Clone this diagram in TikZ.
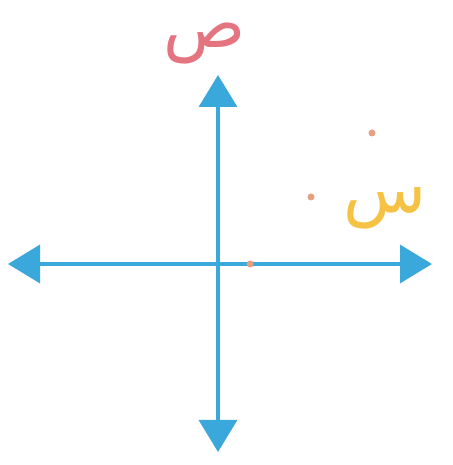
\documentclass[tikz,border=0pt]{standalone}
\usepackage{fontspec}
\newfontfamily\arabicfont[Script=Arabic]{DejaVu Sans}
\TeXXeTstate=1
\usetikzlibrary{arrows.meta}
\definecolor{axisblue}{HTML}{3AA8DA}
\definecolor{sadred}{HTML}{E47580}
\definecolor{seenyellow}{HTML}{F5C243}
\definecolor{dotorange}{HTML}{E9A07E}
\tikzset{
  axis/.style={draw=axisblue, line width=3.5pt, -{Triangle[length=32pt,width=38pt]}, shorten >=0pt},
  dotpt/.style={circle, fill=dotorange, inner sep=0pt, minimum size=7pt},
  letter/.style={inner sep=0pt, text height=0.45em, text depth=0.25em, font=\arabicfont\fontsize{68}{68}\selectfont}
}
\begin{document}
\begin{tikzpicture}[x=1pt,y=1pt]
\useasboundingbox (0,0) rectangle (452,465);
\coordinate (O) at (218,201);
\coordinate (top) at (218,390);
\coordinate (bottom) at (218,13);
\coordinate (left) at (8,201);
\coordinate (right) at (432,201);
\draw[axis] (O) -- (top);
\draw[axis] (O) -- (bottom);
\draw[axis] (O) -- (left);
\draw[axis] (O) -- (right);
\node[dotpt] (d1) at (372,332) {};
\node[dotpt] (d2) at (311,268) {};
\node[dotpt] (d3) at (250,201) {};
\node[letter, text=sadred, anchor=base] (sad) at (205,417) {\beginR ص\endR};
\node[letter, text=seenyellow, anchor=base] (seen) at (385,252) {\beginR س\endR};
\end{tikzpicture}
\end{document}
